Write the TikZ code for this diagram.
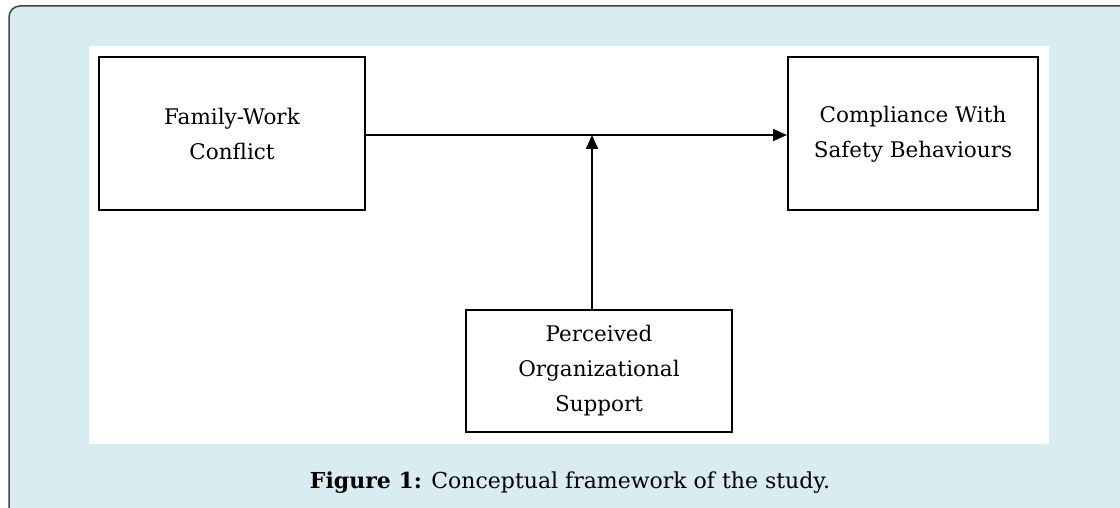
\documentclass[tikz,border=0pt]{standalone}
\usepackage{fontspec}
\setmainfont{DejaVu Serif}
\usetikzlibrary{arrows.meta}
\definecolor{bgblue}{HTML}{D8ECF2}
\definecolor{frame}{HTML}{444444}
\begin{document}
\begin{tikzpicture}[x=1pt,y=-1pt,
  stepbox/.style={draw=black,line width=2pt,fill=white,inner sep=0pt,align=center,
     font=\fontsize{21.5}{35}\selectfont},
  link/.style={line width=2pt,-{Triangle[length=14pt,width=12pt]}}]
\useasboundingbox (0,0) rectangle (1120,508);
\begin{scope}
\clip (0,0) rectangle (1120,508);
\draw[frame,fill=bgblue,line width=1.5pt,rounded corners=11pt] (9,6) rectangle (1135,525);
\end{scope}
\fill[white] (89,46) rectangle (1049,444);
\node[stepbox,minimum width=266pt,minimum height=153pt] (fwc) at (232,134) {Family-Work\\Conflict};
\node[stepbox,minimum width=250pt,minimum height=153pt] (csb) at (913,134) {Compliance With\\Safety Behaviours};
\node[stepbox,minimum width=266pt,minimum height=122pt] (pos) at (599,371) {Perceived\\Organizational\\Support};
\coordinate (j) at (592,135);
\draw[link] (fwc.east |- j) -- (csb.west |- j);
\draw[link] (pos.north -| j) -- (j);
\node[font=\fontsize{22}{26}\selectfont] (cap) at (570,483) {\textbf{Figure 1:} Conceptual framework of the study.};
\end{tikzpicture}
\end{document}
